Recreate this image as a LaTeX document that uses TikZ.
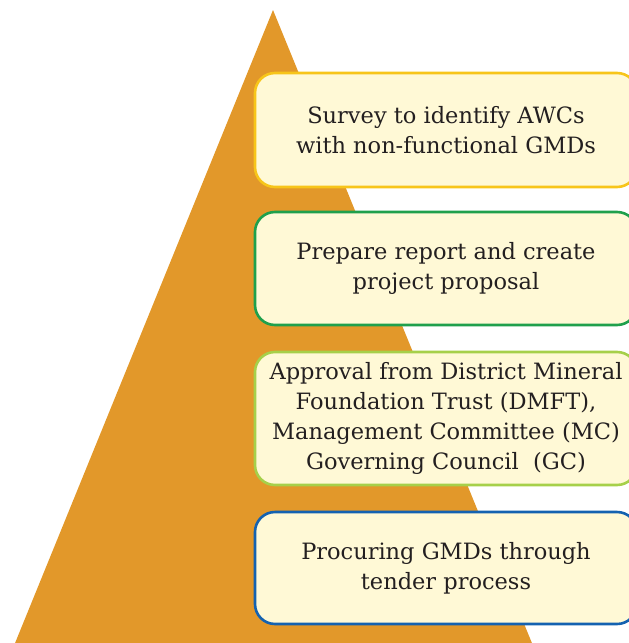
\documentclass[tikz,border=0pt]{standalone}
\usepackage{fontspec}
\setmainfont{DejaVu Serif}
\definecolor{pyramid}{HTML}{E2982A}
\definecolor{cream}{HTML}{FFF9D6}
\definecolor{inktext}{HTML}{231F20}
\definecolor{edgeA}{HTML}{F7C51A}
\definecolor{edgeB}{HTML}{1FA04C}
\definecolor{edgeC}{HTML}{A6D04A}
\definecolor{edgeD}{HTML}{1462B0}
\tikzset{
  stepbox/.style={draw, line width=2.6pt, fill=cream, rounded corners=20pt,
    minimum width=382pt, inner sep=0pt, align=center, text=inktext,
    font=\fontsize{22.5}{30}\selectfont}
}
\begin{document}
\begin{tikzpicture}[x=1pt,y=-1pt]
  \useasboundingbox (0,0) rectangle (629,643);
  \clip (0,0) rectangle (629,643);
  % orange pyramid behind the steps
  \fill[pyramid] (273,10) -- (536,653) -- (11,653) -- cycle;
  % the four steps, top to bottom
  \node[stepbox, draw=edgeA, minimum height=114pt] (s1) at (446,130)
    {Survey to identify AWCs\\with non-functional GMDs};
  \node[stepbox, draw=edgeB, minimum height=113pt] (s2) at (446,268.5)
    {Prepare report and create\\project proposal};
  \node[stepbox, draw=edgeC, minimum height=133pt] (s3) at (446,418.5)
    {Approval from District Mineral\\Foundation Trust (DMFT),\\Management Committee (MC)\\Governing Council\ \ (GC)};
  \node[stepbox, draw=edgeD, minimum height=112pt] (s4) at (446,568)
    {Procuring GMDs through\\tender process};
\end{tikzpicture}
\end{document}
